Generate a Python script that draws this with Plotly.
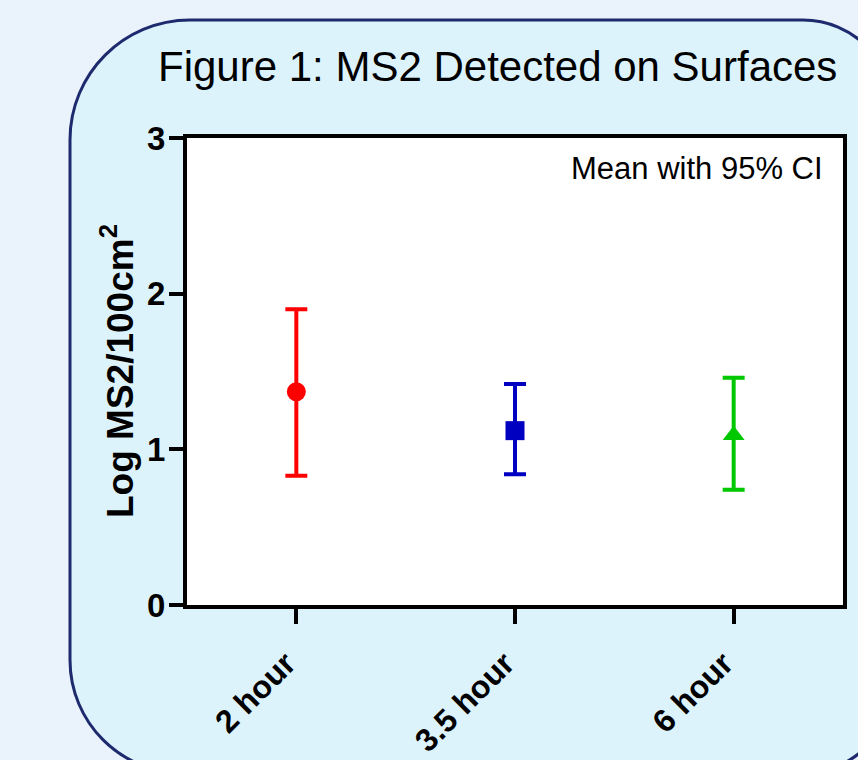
import plotly.graph_objects as go

categories = ["2 hour", "3.5 hour", "6 hour"]
means = [1.37, 1.12, 1.09]
upper_ci = [1.90, 1.42, 1.46]
lower_ci = [0.83, 0.84, 0.74]
colors = ["#FF0000", "#0000C0", "#00C800"]
symbols = ["circle", "square", "triangle-up"]
y_ticks = [0, 1, 2, 3]

W, H = 858, 760
ML, MR, MT, MB = 187, 15, 138, 155
PW, PH = W - ML - MR, H - MT - MB


def px(x):
    return (x - ML) / PW


def py(y):
    return (H - MB - y) / PH


fig = go.Figure()
for i, cat in enumerate(categories):
    fig.add_trace(go.Scatter(
        x=[cat], y=[means[i]], mode="markers",
        marker=dict(symbol=symbols[i], size=19, color=colors[i], line=dict(width=0)),
        error_y=dict(type="data", symmetric=False,
                     array=[upper_ci[i] - means[i]],
                     arrayminus=[means[i] - lower_ci[i]],
                     color=colors[i], thickness=4, width=11),
        showlegend=False,
    ))

# rounded panel path (pixel coords -> paper coords)
L, T, R, B = 70, 20, 893, 773
r_tl, r_tr, r_br, r_bl = 120, 90, 90, 113
k = 0.5523


def P(x, y):
    return f"{px(x):.5f},{py(y):.5f}"


path = (
    f"M {P(L, T + r_tl)} "
    f"C {P(L, T + r_tl - k * r_tl)} {P(L + r_tl - k * r_tl, T)} {P(L + r_tl, T)} "
    f"L {P(R - r_tr, T)} "
    f"C {P(R - r_tr + k * r_tr, T)} {P(R, T + r_tr - k * r_tr)} {P(R, T + r_tr)} "
    f"L {P(R, B - r_br)} "
    f"C {P(R, B - r_br + k * r_br)} {P(R - r_br + k * r_br, B)} {P(R - r_br, B)} "
    f"L {P(L + r_bl, B)} "
    f"C {P(L + r_bl - k * r_bl, B)} {P(L, B - r_bl + k * r_bl)} {P(L, B - r_bl)} Z"
)
fig.add_shape(type="path", path=path, xref="paper", yref="paper",
              fillcolor="#DDF3FC", line=dict(color="#1E2A6E", width=3), layer="below")
# white plot area
fig.add_shape(type="rect", xref="paper", yref="paper", x0=0, x1=1, y0=0, y1=1,
              fillcolor="white", line=dict(width=0), layer="below")

fig.add_annotation(text="Figure 1: MS2 Detected on Surfaces", xref="paper", yref="paper",
                   x=px(497), y=py(67), showarrow=False, xanchor="center", yanchor="middle",
                   font=dict(family="Liberation Sans, Arial", size=42, color="black"))
fig.add_annotation(text="Mean with 95% CI", xref="paper", yref="paper",
                   x=px(825), y=py(168), showarrow=False, xanchor="right", yanchor="middle",
                   font=dict(family="Liberation Sans, Arial", size=31, color="black"))
fig.add_annotation(text="<b>Log MS2/100cm<sup>2</sup></b>", xref="paper", yref="paper",
                   x=px(117), y=py(371), showarrow=False, textangle=-90,
                   xanchor="center", yanchor="middle",
                   font=dict(family="Liberation Sans, Arial", size=37, color="black"))

fig.update_layout(
    width=W, height=H,
    margin=dict(l=ML, r=MR, t=MT, b=MB),
    paper_bgcolor="#EAF2FB", plot_bgcolor="rgba(0,0,0,0)",
    xaxis=dict(type="category", range=[-0.5, 2.5], showgrid=False, zeroline=False,
               automargin=False,
               showline=True, linecolor="black", linewidth=4, mirror=True,
               ticks="outside", ticklen=15, tickwidth=4, tickcolor="black",
               tickangle=-45, ticklabelshift=-10, ticklabelstandoff=8,
               tickfont=dict(family="Liberation Sans, Arial", size=32, color="black", weight="bold")),
    yaxis=dict(range=[0, 3], tickvals=y_ticks, showgrid=False, zeroline=False,
               automargin=False,
               showline=True, linecolor="black", linewidth=4, mirror=True,
               ticks="outside", ticklen=14, tickwidth=4, tickcolor="black",
               ticklabelstandoff=-3,
               tickfont=dict(family="Liberation Sans, Arial", size=33, color="black", weight="bold")),
)

fig.write_html("out.html", config={"displayModeBar": False},
               post_script="document.body.style.margin='0';")
